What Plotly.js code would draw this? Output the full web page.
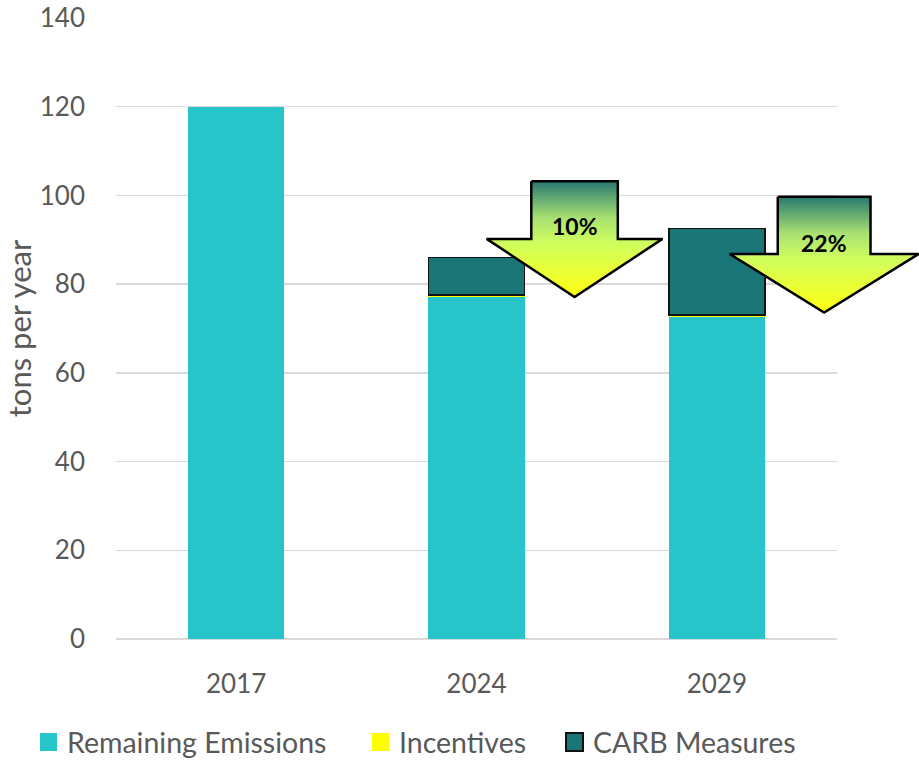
<!DOCTYPE html>
<html>
<head>
<meta charset="utf-8">
<script src="https://cdn.plot.ly/plotly-3.0.1.min.js"></script>
<style>html,body{margin:0;padding:0;background:#fff}#chart{width:919px;height:764px}</style>
</head>
<body>
<div id="chart"></div>
<script>
// ---- data ----
const categories = ['2017', '2024', '2029'];
const remainingEmissions = [120, 77.1, 72.6];
const incentives = [null, 0.4, 0.4];
const carbMeasures = [null, 8.5, 19.6];
const seriesNames = ['Remaining Emissions', 'Incentives', 'CARB Measures'];
const seriesColors = ['#27c4ca', '#ffff00', '#1a7577'];
const reductionLabels = ['10%', '22%'];
const reductionCategory = [1, 2];

// ---- arrow decoration geometry (data units: category index / tons) ----
const arrowTipOffset = [0.408, 0.4465];
const arrowTipY = [77.1, 73.6];
const arrowShaftHalf = [0.18, 0.193];
const arrowHeadHalf = [0.366, 0.393];
const arrowHeadY = [90.2, 86.8];
const arrowTopY = [103.2, 99.7];
const arrowLabelY = [93.1, 89.3];

// ---- legend placement (pixels) ----
const legendSwatchX = [40, 372, 566];
const legendY = 742;

const W = 919, H = 764;
const plotL = 116, plotR = 837, plotT = 18, plotB = 639;
const xRange = [-0.5, 2.5], yRange = [0, 140];
const ux = (xRange[1] - xRange[0]) / (plotR - plotL);
const uy = (yRange[1] - yRange[0]) / (plotB - plotT);

const xIdx = categories.map((c, i) => i);
const font = 'Lato, "Open Sans", sans-serif';
const grey = '#595959';

const traces = [
  {type: 'bar', x: xIdx, y: remainingEmissions, name: seriesNames[0], width: 0.4,
   marker: {color: seriesColors[0], line: {width: 0}}, xaxis: 'x', yaxis: 'y'},
  {type: 'bar', x: xIdx, y: incentives, name: seriesNames[1], width: 0.4,
   marker: {color: seriesColors[1], line: {width: 0}}, xaxis: 'x', yaxis: 'y'},
  {type: 'bar', x: xIdx, y: carbMeasures, name: seriesNames[2], width: 0.4,
   marker: {color: seriesColors[2], line: {width: 1.5, color: '#111111'}}, xaxis: 'x', yaxis: 'y'}
];

const annotations = [];
const shapes = [];
reductionCategory.forEach((c, i) => {
  const tx = c + arrowTipOffset[i];
  const sh = arrowShaftHalf[i], hh = arrowHeadHalf[i];
  const xs = [tx - sh, tx + sh, tx + sh, tx + hh, tx, tx - hh, tx - sh, tx - sh];
  const ys = [arrowTopY[i], arrowTopY[i], arrowHeadY[i], arrowHeadY[i], arrowTipY[i], arrowHeadY[i], arrowHeadY[i], arrowTopY[i]];
  traces.push({
    type: 'scatter', mode: 'lines', x: xs, y: ys, fill: 'toself',
    fillgradient: {type: 'vertical', colorscale: [[0, '#ffff10'], [0.45, '#d2ff5c'], [0.68, '#a9e272'], [1, '#287870']]},
    line: {color: '#000000', width: 2.5}, showlegend: false, hoverinfo: 'skip',
    xaxis: 'x2', yaxis: 'y2'
  });
  annotations.push({
    xref: 'x2', yref: 'y2', x: tx, y: arrowLabelY[i], text: '<b>' + reductionLabels[i] + '</b>',
    showarrow: false, font: {family: font, size: 23, color: '#000000'}
  });
});

// manual legend
seriesNames.forEach((n, i) => {
  const x0 = legendSwatchX[i];
  shapes.push({
    type: 'rect', xref: 'paper', yref: 'paper', layer: 'above',
    x0: x0 / W, x1: (x0 + 17) / W, y0: (H - legendY - 9) / H, y1: (H - legendY + 9) / H,
    fillcolor: seriesColors[i],
    line: {width: i === 2 ? 2 : 0, color: '#111111'}
  });
  annotations.push({
    xref: 'paper', yref: 'paper', x: (x0 + 25) / W, y: (H - legendY) / H,
    xanchor: 'left', yanchor: 'middle', showarrow: false, text: n,
    font: {family: font, size: 28.5, color: grey}
  });
});

const layout = {
  width: W, height: H,
  margin: {l: 0, r: 0, t: 0, b: 0, pad: 0},
  paper_bgcolor: '#ffffff', plot_bgcolor: 'rgba(0,0,0,0)',
  barmode: 'stack',
  font: {family: font, size: 26, color: grey},
  xaxis: {
    domain: [plotL / W, plotR / W], range: xRange, anchor: 'y',
    tickmode: 'array', tickvals: xIdx, ticktext: categories,
    showgrid: false, zeroline: false, showline: false, ticks: '',
    ticklabelstandoff: 27, tickfont: {family: font, size: 26, color: grey}
  },
  yaxis: {
    domain: [(H - plotB) / H, (H - plotT) / H], range: yRange, anchor: 'x',
    dtick: 20, showgrid: true, gridcolor: '#d9d9d9', gridwidth: 1.3,
    zeroline: true, zerolinecolor: '#d9d9d9', zerolinewidth: 2.2,
    showline: false, ticks: '', ticklabelstandoff: 30,
    tickfont: {family: font, size: 26, color: grey},
    title: {text: 'tons per year', font: {family: font, size: 31, color: grey}, standoff: 8}
  },
  xaxis2: {
    domain: [0, 1], anchor: 'y2',
    range: [xRange[0] - plotL * ux, xRange[1] + (W - plotR) * ux],
    visible: false, fixedrange: true
  },
  yaxis2: {
    domain: [0, 1], anchor: 'x2',
    range: [yRange[0] - (H - plotB) * uy, yRange[1] + plotT * uy],
    visible: false, fixedrange: true
  },
  showlegend: false,
  annotations: annotations,
  shapes: shapes
};

Plotly.newPlot('chart', traces, layout, {staticPlot: true, displayModeBar: false});
</script>
</body>
</html>
